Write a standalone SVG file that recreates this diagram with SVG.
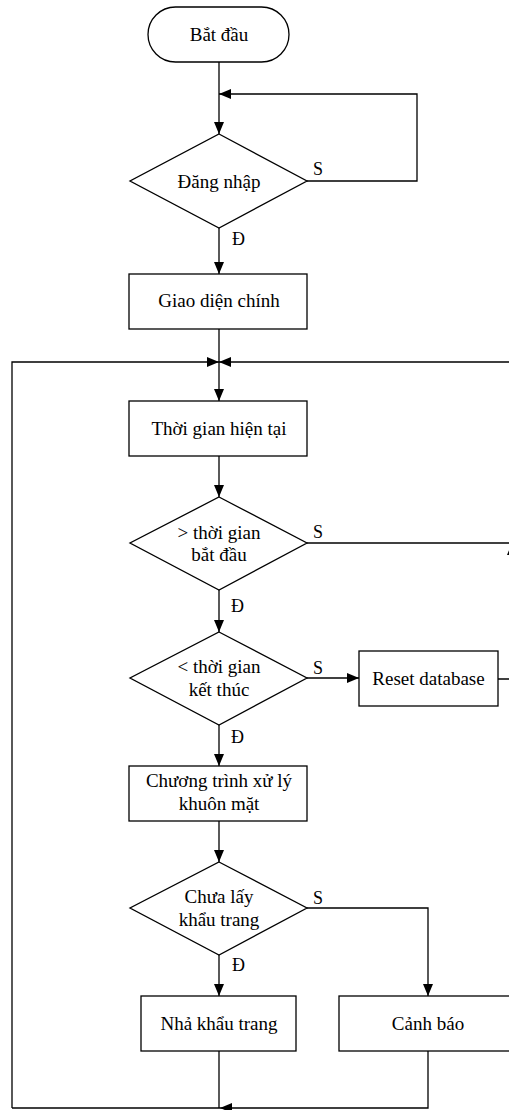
<svg xmlns="http://www.w3.org/2000/svg" width="509" height="1110" viewBox="0 0 509 1110">
<defs>
<marker id="ah" viewBox="0 0 12 10" refX="12" refY="5" markerWidth="12" markerHeight="10" markerUnits="userSpaceOnUse" orient="auto">
<path d="M0,0 L12,5 L0,10 Z" fill="#000"/>
</marker>
</defs>
<style>
.s{fill:#fff;stroke:#000;stroke-width:1.3}
.c{fill:none;stroke:#000;stroke-width:1.3}
.t{font-family:"Liberation Serif","Times New Roman",serif;font-size:19px;fill:#000;text-anchor:middle}
.l{font-family:"Liberation Serif","Times New Roman",serif;font-size:18px;fill:#000}
</style>
<rect width="509" height="1110" fill="#fff"/>
<g id="connectors">
<path class="c" d="M219,62 V134" marker-end="url(#ah)"/>
<path class="c" d="M307,181 H417 V94 H219" marker-end="url(#ah)"/>
<path class="c" d="M219,228 V274" marker-end="url(#ah)"/>
<path class="c" d="M219,329 V401" marker-end="url(#ah)"/>
<path class="c" d="M12,1108 V362 H219" marker-end="url(#ah)"/>
<path class="c" d="M512,543 V362 H219" marker-end="url(#ah)"/>
<path class="c" d="M219,456 V497" marker-end="url(#ah)"/>
<path class="c" d="M307,543 H512"/>
<path class="c" d="M498,679 H512 V543" marker-end="url(#ah)"/>
<path class="c" d="M219,590 V632" marker-end="url(#ah)"/>
<path class="c" d="M307,678 H359" marker-end="url(#ah)"/>
<path class="c" d="M219,725 V766" marker-end="url(#ah)"/>
<path class="c" d="M219,821 V862" marker-end="url(#ah)"/>
<path class="c" d="M219,955 V996" marker-end="url(#ah)"/>
<path class="c" d="M307,908 H428 V996" marker-end="url(#ah)"/>
<path class="c" d="M219,1051 V1108"/>
<path class="c" d="M428,1051 V1108 H220" marker-end="url(#ah)"/>
<path class="c" d="M220,1108 H12"/>
<text class="l" x="313" y="175">S</text>
<text class="l" x="232" y="245">Đ</text>
<text class="l" x="313" y="538">S</text>
<text class="l" x="231" y="612">Đ</text>
<text class="l" x="313" y="674">S</text>
<text class="l" x="231" y="743">Đ</text>
<text class="l" x="313" y="904">S</text>
<text class="l" x="232" y="971">Đ</text>
</g>
<g id="start">
<rect class="s" x="148" y="7" width="141" height="55" rx="27.5" ry="27.5"/>
<text class="t" x="219" y="40.5">Bắt đầu</text>
</g>
<g id="login">
<polygon class="s" points="219,134 307,181 219,228 130,181"/>
<text class="t" x="219" y="188">Đăng nhập</text>
</g>
<g id="main">
<rect class="s" x="129" y="274" width="178" height="55"/>
<text class="t" x="219" y="307">Giao diện chính</text>
</g>
<g id="now">
<rect class="s" x="129" y="401" width="178" height="55"/>
<text class="t" x="219" y="435">Thời gian hiện tại</text>
</g>
<g id="after-start">
<polygon class="s" points="219,497 307,543 219,590 130,543"/>
<text class="t" x="219" y="539">&gt; thời gian</text>
<text class="t" x="219" y="561">bắt đầu</text>
</g>
<g id="before-end">
<polygon class="s" points="219,632 307,678 219,725 130,678"/>
<text class="t" x="219" y="673">&lt; thời gian</text>
<text class="t" x="219" y="696">kết thúc</text>
</g>
<g id="reset">
<rect class="s" x="359" y="651" width="139" height="55"/>
<text class="t" x="428.5" y="685">Reset database</text>
</g>
<g id="face">
<rect class="s" x="129" y="766" width="178" height="55"/>
<text class="t" x="219" y="787">Chương trình xử lý</text>
<text class="t" x="219" y="810">khuôn mặt</text>
</g>
<g id="mask">
<polygon class="s" points="219,862 307,908 219,955 130,908"/>
<text class="t" x="219" y="903">Chưa lấy</text>
<text class="t" x="219" y="926">khẩu trang</text>
</g>
<g id="release">
<rect class="s" x="141" y="996" width="155" height="55"/>
<text class="t" x="219" y="1030">Nhả khẩu trang</text>
</g>
<g id="warn">
<rect class="s" x="339" y="996" width="178" height="55"/>
<text class="t" x="428" y="1030">Cảnh báo</text>
</g>
</svg>
